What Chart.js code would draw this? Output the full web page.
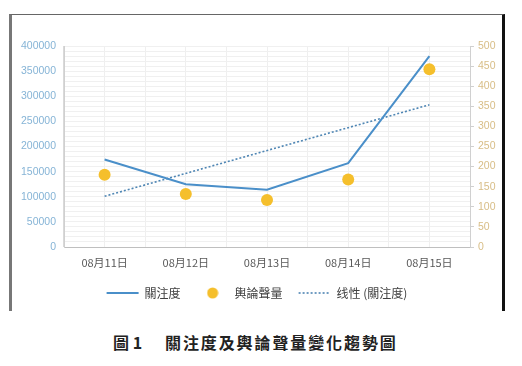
<!DOCTYPE html>
<html>
<head>
<meta charset="utf-8">
<script src="https://cdn.jsdelivr.net/npm/chart.js@4/dist/chart.umd.min.js"></script>
<style>
  html, body { margin: 0; padding: 0; background: #fff; }
  #wrap { position: relative; width: 522px; height: 366px; overflow: hidden; background: #fff; }
  #frame { position: absolute; left: 9px; top: 14px; width: 490px; height: 296px;
           border-top: 1px solid #666; border-left: 3px solid #777; border-right: 3px solid #111; box-sizing: content-box; }
  #cv { position: absolute; left: 0; top: 0; }
  .cap { position: absolute; top: 331px; font-family: "Noto Sans CJK TC", "Liberation Sans", sans-serif;
         font-size: 16px; font-weight: bold; color: #222; white-space: pre; line-height: 22px; }
</style>
</head>
<body>
<div id="wrap">
  <canvas id="cv" width="522" height="320"></canvas>
  <div id="frame"></div>
  <div class="cap" style="left:113px;">圖 1</div>
  <div class="cap" style="left:165px; letter-spacing:1.9px;">關注度及輿論聲量變化趨勢圖</div>
</div>
<script>
// ---- data ----
const categories = ['08月11日', '08月12日', '08月13日', '08月14日', '08月15日'];
const attention = [174000, 125000, 114000, 167000, 380000];   // 關注度 (left axis)
const volume = [180, 132, 117, 168, 442];                      // 輿論聲量 (right axis)
const trendline = [101000, null, null, null, 283000];          // 线性 (關注度), endpoints of Excel trendline
const leftTicksMax = 400000;
const rightTicksMax = 500;

const seriesNames = ['關注度', '輿論聲量', '线性 (關注度)'];

const dotImg = document.createElement('canvas');
dotImg.width = 12; dotImg.height = 12;
(function(){ const c = dotImg.getContext('2d'); c.fillStyle = '#f5bf2c'; c.beginPath(); c.arc(6,6,5.5,0,Math.PI*2); c.fill(); })();

const ctx = document.getElementById('cv').getContext('2d');
new Chart(ctx, {
  type: 'line',
  data: {
    labels: categories,
    datasets: [
      { label: seriesNames[0], data: attention, yAxisID: 'y', borderColor: '#4a8fc9', backgroundColor: '#4a8fc9',
        borderWidth: 2, pointRadius: 0, tension: 0, order: 2 },
      { label: seriesNames[1], data: volume, yAxisID: 'y1', showLine: false, borderColor: '#f5bf2c', backgroundColor: '#f5bf2c',
        pointRadius: 6, pointHoverRadius: 6, pointBorderWidth: 0, order: 1 },
      { label: seriesNames[2], data: trendline, yAxisID: 'y', spanGaps: true, borderColor: '#4f86b4', backgroundColor: '#4f86b4',
        borderWidth: 1.6, borderDash: [2, 2], pointRadius: 0, order: 3 }
    ]
  },
  options: {
    responsive: false,
    animation: false,
    layout: { padding: { left: 14, right: 22, top: 46, bottom: 11 } },
    plugins: {
      tooltip: { enabled: false },
      title: { display: false },
      legend: {
        position: 'bottom',
        labels: {
          usePointStyle: true,
          pointStyleWidth: 32,
          boxHeight: 12,
          padding: 16,
          color: '#404040',
          font: { family: '"Noto Sans CJK TC", "Liberation Sans", sans-serif', size: 12 },
          generateLabels(chart) {
            const items = Chart.defaults.plugins.legend.labels.generateLabels(chart);
            items.sort((a, b) => a.datasetIndex - b.datasetIndex);
            items[0].pointStyle = 'line'; items[0].lineWidth = 2;
            items[1].pointStyle = dotImg;
            items[2].pointStyle = 'line'; items[2].lineDash = [2, 2]; items[2].lineWidth = 1.6;
            return items;
          }
        }
      }
    },
    scales: {
      x: {
        type: 'category',
        offset: true,
        grid: { offset: true, color: '#d9d9d9', drawTicks: false },
        border: { color: '#bfbfbf' },
        ticks: { padding: 9, color: '#595959', font: { family: '"Noto Sans CJK TC", "Liberation Sans", sans-serif', size: 11 } },
        afterFit(s) { s.height = 24; }
      },
      xm: {
        type: 'linear', position: 'bottom', min: -0.5, max: 4.5, z: -1,
        display: true,
        ticks: { display: false, stepSize: 0.5 },
        grid: { color: '#efefef', drawTicks: false },
        border: { display: false },
        afterFit(s) { s.height = 0; }
      },
      y: {
        position: 'left', min: 0, max: leftTicksMax,
        ticks: { stepSize: 50000, padding: 8, color: '#86b4d6', font: { family: '"Liberation Sans", sans-serif', size: 10.5 },
                 callback: v => String(v) },
        grid: { color: '#d9d9d9', drawTicks: false },
        border: { color: '#d0d0d0' },
        afterFit(s) { s.width = 50; }
      },
      ym: {
        position: 'left', min: 0, max: leftTicksMax, z: -1,
        ticks: { display: false, stepSize: 10000 },
        grid: { color: '#f0f0f0', drawTicks: false },
        border: { display: false },
        afterFit(s) { s.width = 0; }
      },
      y1: {
        position: 'right', min: 0, max: rightTicksMax,
        ticks: { stepSize: 50, padding: 4, color: '#d8bd86', font: { family: '"Liberation Sans", sans-serif', size: 10.5 },
                 callback: v => String(v) },
        grid: { drawOnChartArea: false, tickLength: 4, color: '#d0d0d0' },
        border: { color: '#d0d0d0' },
        afterFit(s) { s.width = 30; }
      }
    }
  }
});
</script>
</body>
</html>
